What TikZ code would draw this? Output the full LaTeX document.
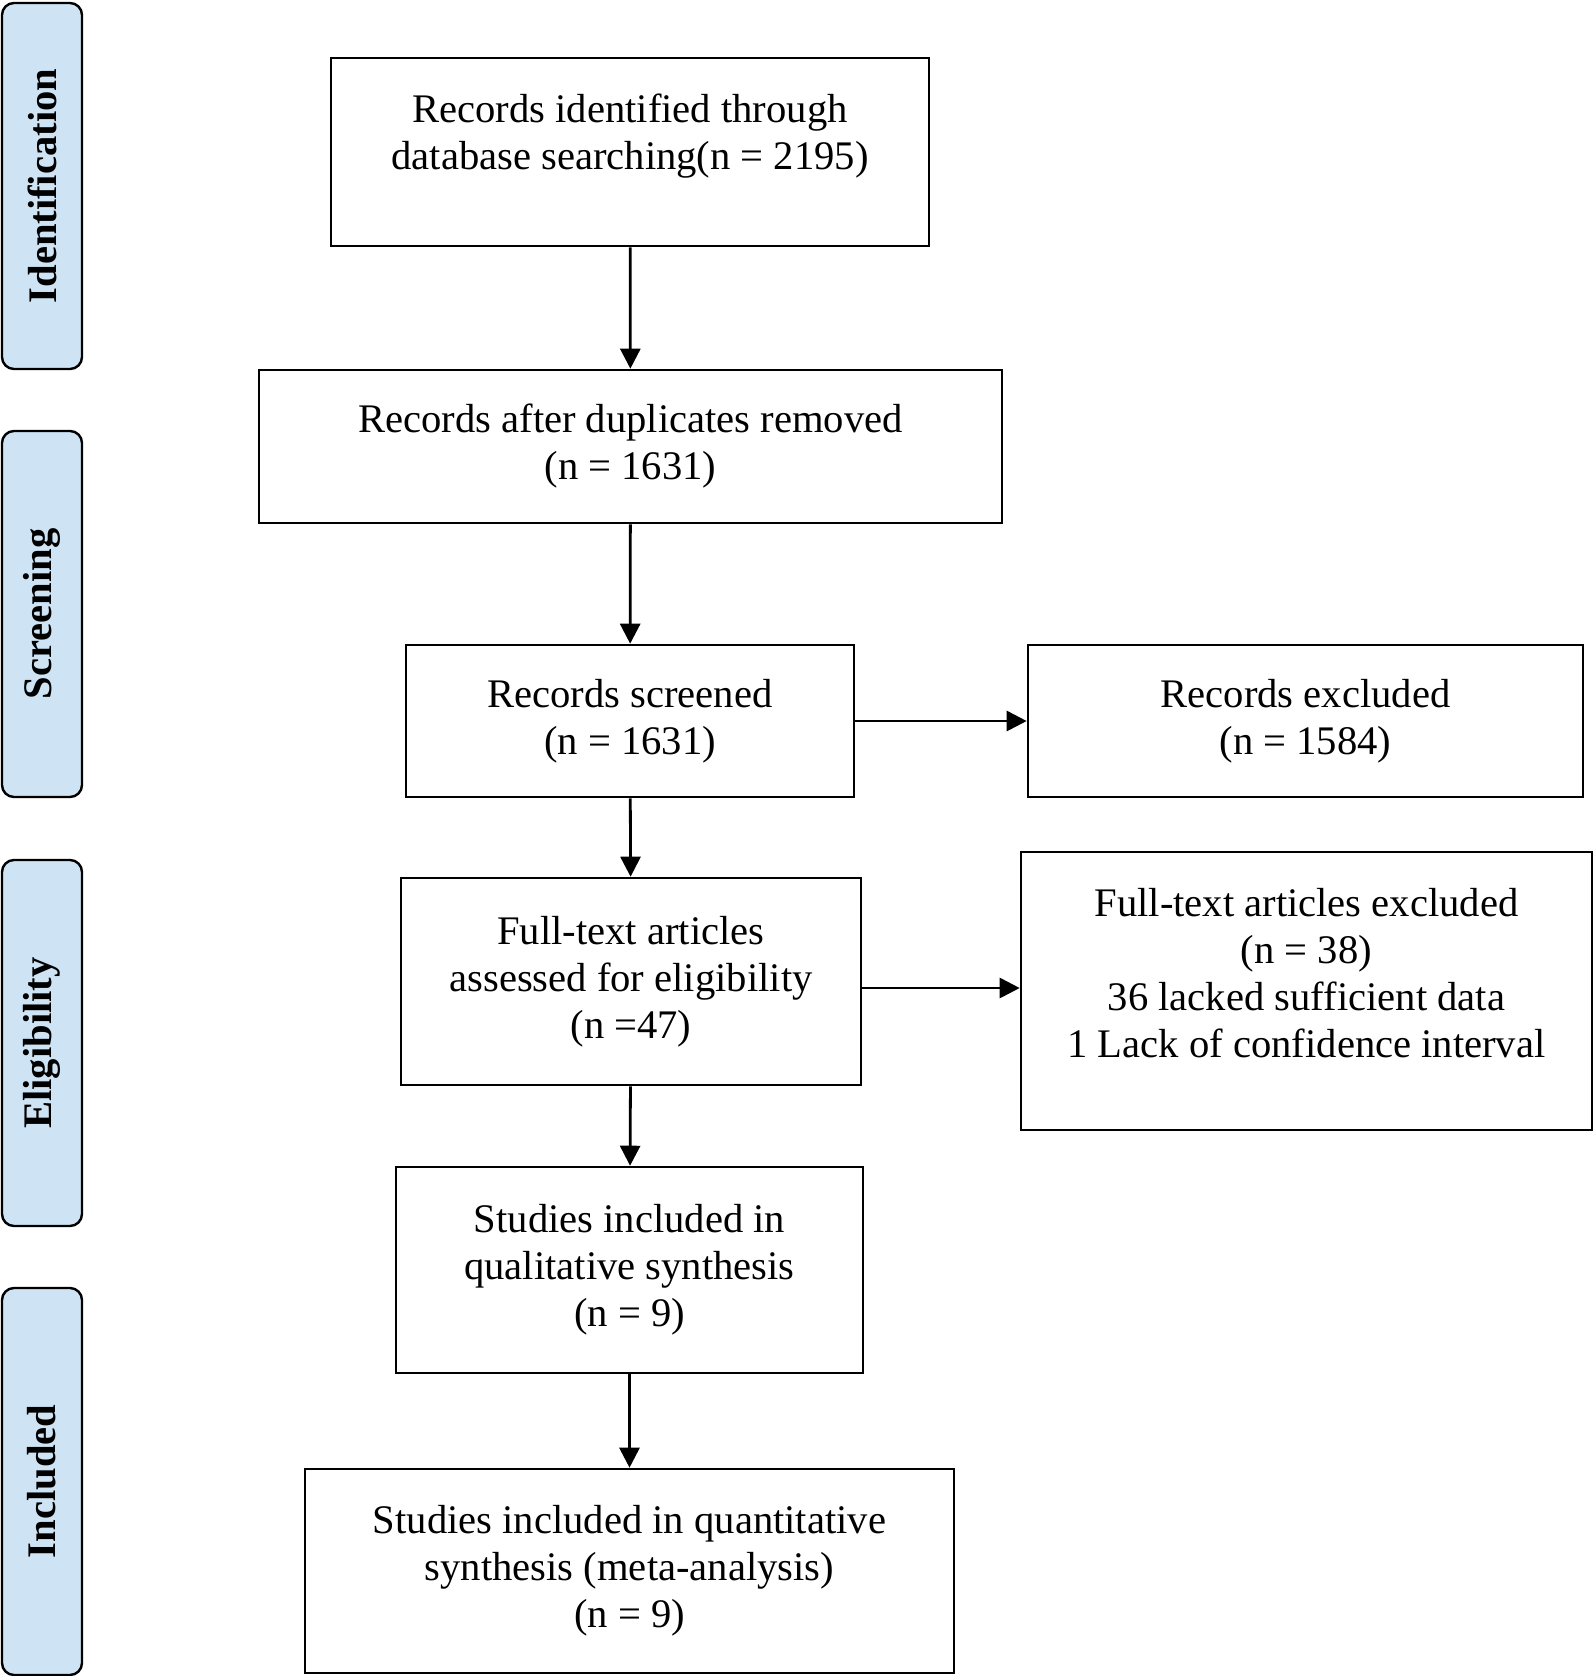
\documentclass[tikz,border=0pt]{standalone}
\usepackage{fontspec}
\setmainfont{Liberation Serif}
\usetikzlibrary{arrows.meta}
\definecolor{stagefill}{RGB}{206,228,244}

\begin{document}
\begin{tikzpicture}[x=0.5pt, y=-0.5pt,
	box/.style={draw, line width=1.3pt, align=center, font=\fontsize{20.3}{23.5}\selectfont},
	stage/.style={draw, rounded corners=6pt, fill=stagefill, line width=1.2pt, rotate=90,
		minimum width=183pt, minimum height=40pt, font=\bfseries\fontsize{20.3}{24}\selectfont},
	arr/.style={-{Triangle[length=10pt, width=10pt]}, line width=1.4pt}]
	\useasboundingbox (0,0) rectangle (1594,1676);
	% stages
	\node[stage] (ident) at (42,186) {Identification};
	\node[stage] (screen) at (42,614) {Screening};
	\node[stage] (elig) at (42,1043) {Eligibility};
	\node[stage, minimum width=193.5pt] (incl) at (42,1481.5) {Included};
	% boxes
	\node[box, minimum width=299pt, minimum height=94pt, text depth=20.3pt] (found) at (630,152) {Records identified through\\database searching(n = 2195)};
	\node[box, minimum width=371.5pt, minimum height=76.5pt] (dedup) at (630.5,446.5) {Records after duplicates removed\\(n = 1631)};
	\node[box, minimum width=224pt, minimum height=76pt] (screened) at (630,721) {Records screened\\(n = 1631)};
	\node[box, minimum width=277.5pt, minimum height=76pt] (recexcl) at (1305.5,721) {Records excluded\\(n = 1584)};
		\node[box, minimum width=230pt, minimum height=103.5pt] (fulltext) at (631,981.5) {Full-text articles\\assessed for eligibility\\(n =47)};
		\node[box, minimum width=285.5pt, minimum height=139pt, text depth=17.8pt] (ftexcl) at (1306.5,991) {Full-text articles excluded\\(n = 38)\\36 lacked sufficient data\\1 Lack of confidence interval};
			\node[box, minimum width=233.5pt, minimum height=103pt] (qual) at (629.5,1270) {Studies included in\\qualitative synthesis\\(n = 9)};
			\node[box, minimum width=324.5pt, minimum height=102pt] (quant) at (629.5,1571) {Studies included in quantitative\\synthesis (meta-analysis)\\(n = 9)};
	% arrows
	\draw[arr] (found) to (dedup);
	\draw[arr] (dedup) to (screened);
	\draw[arr] (screened) to (recexcl);
	\draw[arr] (screened) to (fulltext);
	\draw[arr] ([yshift=-3.25pt]fulltext.east) to ([yshift=-3.25pt]fulltext.east -| ftexcl.west);
	\draw[arr] (fulltext) to (qual);
	\draw[arr] (qual) to (quant);
\end{tikzpicture}
\end{document}
